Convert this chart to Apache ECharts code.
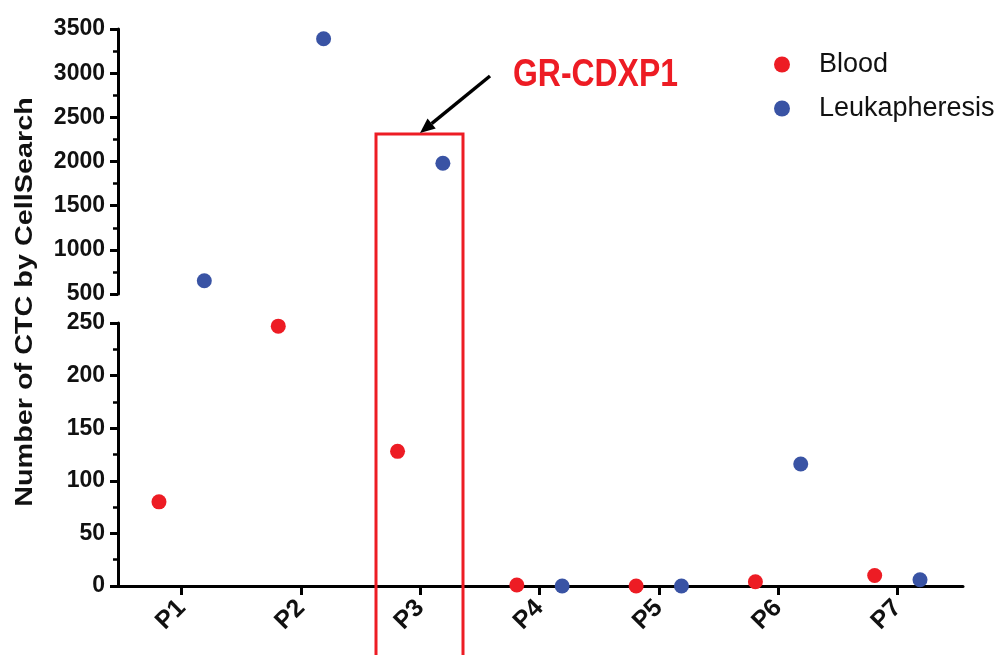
<!DOCTYPE html>
<html>
<head>
<meta charset="utf-8">
<script src="https://cdn.jsdelivr.net/npm/echarts@6/dist/echarts.min.js"></script>
<style>
html,body{margin:0;padding:0;background:#fff;}
#chart{width:1006px;height:655px;}
</style>
</head>
<body>
<div id="chart"></div>
<script>
// ---- data ----
const categories = ['P1', 'P2', 'P3', 'P4', 'P5', 'P6', 'P7'];
const blood = [80, 247, 128, 1, 0, 4, 10];
const leukapheresis = [650, 3390, 1980, 0, 0, 116, 6];
const seriesNames = ['Blood', 'Leukapheresis'];
const topAxis = [500, 3500, 500];     // min, max, interval (upper segment)
const bottomAxis = [0, 250, 50];      // min, max, interval (lower segment)
const groupOffset = 0.19;             // dodge within category
const annotationText = 'GR-CDXP1';
const yTitle = 'Number of CTC by CellSearch';

// ---- styles ----
const RED = '#ed1c24', BLUE = '#3953a4';
const FONT = '"Liberation Sans", Arial, sans-serif';
const colors = [RED, BLUE];

function split(values, off) {
  const top = [], bot = [];
  values.forEach((v, i) => {
    const pt = [i + off, v];
    if (v > bottomAxis[1]) top.push(pt); else bot.push(pt);
  });
  return { top, bot };
}
const groups = [split(blood, -groupOffset), split(leukapheresis, groupOffset)];

const axisLineStyle = { color: '#000', width: 3 };
const yLabel = { color: '#111', fontFamily: FONT, fontWeight: 'bold', fontSize: 23, margin: 13,
  formatter: v => String(v) };

const series = [];
groups.forEach((g, k) => {
  series.push({ type: 'scatter', name: seriesNames[k], xAxisIndex: 0, yAxisIndex: 0, data: g.top,
    symbol: 'circle', symbolSize: 15, itemStyle: { color: colors[k], opacity: 1 }, clip: false, z: 5 });
  series.push({ type: 'scatter', name: seriesNames[k], xAxisIndex: 2, yAxisIndex: 1, data: g.bot,
    symbol: 'circle', symbolSize: 15, itemStyle: { color: colors[k], opacity: 1 }, clip: false, z: 5 });
});

// arrow geometry
const tail = [490, 76], tip = [420, 133];
const dx = tip[0] - tail[0], dy = tip[1] - tail[1], L = Math.hypot(dx, dy);
const ux = dx / L, uy = dy / L, hl = 15, hw = 6.5;
const bx = tip[0] - hl * ux, by = tip[1] - hl * uy;

const yAxisCommon = {
  offset: 4,
  axisLine: { show: true, onZero: false, lineStyle: axisLineStyle },
  axisTick: { show: true, length: 8, lineStyle: { color: '#000', width: 3 } },
  minorTick: { show: true, splitNumber: 2, length: 5, lineStyle: { color: '#000', width: 2.5 } },
  axisLabel: yLabel, splitLine: { show: false }, minorSplitLine: { show: false }
};

const option = {
  animation: false,
  backgroundColor: '#fff',
  grid: [
    { left: 122, top: 29, width: 835, height: 265, containLabel: false },
    { left: 122, top: 323, width: 835, height: 263, containLabel: false },
    { left: 118, top: 323, width: 845, height: 263, containLabel: false }
  ],
  xAxis: [
    { type: 'value', gridIndex: 0, min: -0.5, max: 6.5, show: false },
    { type: 'category', gridIndex: 1, data: categories, boundaryGap: true,
      axisLine: { show: false, onZero: false },
      axisTick: { show: true, alignWithLabel: true, length: 9, lineStyle: { color: '#000', width: 3 } },
      axisLabel: { rotate: 45, margin: 18, color: '#111', fontFamily: FONT, fontWeight: 'bold', fontSize: 25 },
      splitLine: { show: false } },
    { type: 'value', gridIndex: 1, min: -0.5, max: 6.5, show: false },
    { type: 'value', gridIndex: 2, min: 0, max: 1, show: true,
      axisLine: { show: true, onZero: false, lineStyle: axisLineStyle }, axisTick: { show: false },
      axisLabel: { show: false }, splitLine: { show: false } }
  ],
  yAxis: [
    Object.assign({ type: 'value', gridIndex: 0, min: topAxis[0], max: topAxis[1], interval: topAxis[2] }, yAxisCommon),
    Object.assign({ type: 'value', gridIndex: 1, min: bottomAxis[0], max: bottomAxis[1], interval: bottomAxis[2] }, yAxisCommon),
    { type: 'value', gridIndex: 2, show: false }
  ],
  legend: {
    data: seriesNames,
    orient: 'vertical', left: 769, top: 46,
    icon: 'circle', itemWidth: 16, itemHeight: 16, itemGap: 17,
    itemStyle: { opacity: 1 },
    textStyle: { fontFamily: FONT, fontSize: 27, color: '#111', padding: [0, 0, 0, 24] }
  },
  graphic: [
    { type: 'text', x: 25, y: 302, rotation: Math.PI / 2, scaleX: 1.2,
      style: { text: yTitle, font: 'bold 24px "Liberation Sans", Arial, sans-serif', fill: '#111',
        align: 'center', verticalAlign: 'middle' } },
    { type: 'rect', shape: { x: 376, y: 134, width: 87, height: 600 },
      style: { fill: 'none', stroke: RED, lineWidth: 3 }, z: 10 },
    { type: 'line', shape: { x1: tail[0], y1: tail[1], x2: bx, y2: by },
      style: { stroke: '#000', lineWidth: 3.5 }, z: 10 },
    { type: 'polygon', shape: { points: [[tip[0], tip[1]], [bx + hw * uy, by - hw * ux], [bx - hw * uy, by + hw * ux]] },
      style: { fill: '#000' }, z: 10 },
    { type: 'text', x: 513, y: 76, scaleX: 0.84,
      style: { text: annotationText, font: 'bold 38px "Liberation Sans", Arial, sans-serif', fill: RED,
        align: 'left', verticalAlign: 'middle' }, z: 10 }
  ],
  series: series
};

const chart = echarts.init(document.getElementById('chart'), null, { renderer: 'canvas' });
chart.setOption(option);
</script>
</body>
</html>
